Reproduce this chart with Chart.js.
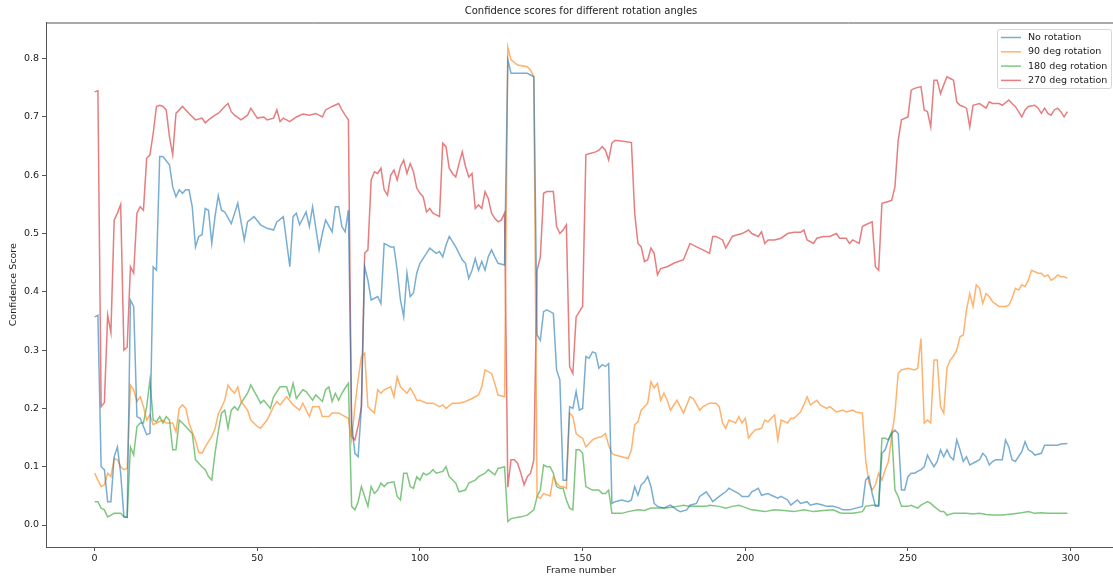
<!DOCTYPE html>
<html>
<head>
<meta charset="utf-8">
<script src="https://cdn.jsdelivr.net/npm/chart.js@4.4.1/dist/chart.umd.min.js"></script>
<style>
  html, body { margin: 0; padding: 0; background: #fff; overflow: hidden; }
  #wrap { position: absolute; left: 0; top: 0; width: 1130px; height: 577px; }
</style>
</head>
<body>
<div id="wrap"><canvas id="chart" width="1130" height="577"></canvas></div>
<script>
// [frame, score] pairs
var noRotation = [[0,.357],[1,.36],[2,.10],[3,.095],[4,.04],[5,.04],[6,.117],[7,.134],[8,.089],[9,.014],[10,.013],[11,.386],[12,.375],[13,.186],[14,.183],[15,.169],[16,.155],[17,.157],[18,.443],[19,.437],[20,.632],[21,.632],[22,.625],[23,.618],[24,.58],[25,.563],[26,.575],[27,.569],[28,.575],[29,.575],[30,.546],[31,.477],[32,.495],[33,.498],[34,.543],[35,.54],[36,.483],[37,.529],[38,.565],[39,.54],[40,.537],[42,.517],[44,.552],[45,.52],[46,.489],[47,.52],[49,.529],[51,.515],[53,.509],[55,.506],[56,.52],[58,.529],[60,.443],[61,.529],[62,.535],[63,.515],[65,.537],[66,.512],[67,.546],[69,.472],[70,.5],[71,.523],[73,.503],[74,.546],[75,.546],[76,.512],[77,.503],[78,.54],[79,.175],[80,.123],[81,.117],[82,.203],[83,.443],[84,.42],[85,.386],[87,.392],[88,.38],[89,.483],[90,.48],[91,.477],[92,.477],[93,.437],[94,.386],[95,.357],[96,.432],[97,.392],[98,.398],[99,.432],[100,.449],[102,.466],[103,.475],[105,.466],[106,.469],[107,.46],[108,.48],[109,.495],[110,.486],[111,.477],[113,.455],[114,.449],[115,.423],[116,.437],[117,.457],[118,.437],[119,.452],[120,.437],[121,.46],[122,.472],[123,.46],[124,.449],[126,.446],[127,.798],[128,.775],[130,.775],[133,.775],[134,.772],[135,.769],[136,.326],[137,.317],[138,.366],[139,.369],[140,.366],[141,.363],[142,.266],[143,.249],[144,.077],[145,.077],[146,.203],[147,.2],[148,.229],[149,.197],[150,.2],[151,.289],[152,.286],[153,.297],[154,.295],[155,.269],[156,.275],[157,.272],[158,.277],[159,.037],[160,.04],[162,.043],[164,.04],[165,.043],[166,.066],[167,.051],[168,.069],[169,.074],[170,.083],[171,.066],[172,.037],[173,.032],[175,.029],[176,.032],[177,.034],[179,.026],[180,.023],[182,.026],[183,.034],[185,.037],[186,.049],[188,.057],[189,.049],[190,.04],[192,.049],[194,.057],[195,.063],[196,.06],[198,.054],[199,.049],[201,.049],[202,.057],[204,.063],[205,.051],[207,.054],[208,.051],[210,.046],[211,.049],[213,.043],[214,.034],[216,.043],[217,.037],[219,.04],[220,.034],[222,.037],[224,.034],[225,.032],[227,.032],[229,.029],[230,.026],[232,.026],[234,.029],[236,.032],[237,.077],[238,.083],[239,.054],[240,.032],[241,.032],[242,.123],[243,.129],[244,.146],[245,.157],[246,.163],[247,.157],[248,.06],[249,.06],[250,.083],[251,.089],[252,.089],[253,.092],[254,.095],[255,.1],[256,.12],[257,.109],[258,.1],[259,.109],[260,.129],[261,.117],[262,.129],[263,.117],[264,.112],[265,.146],[266,.129],[267,.109],[268,.117],[269,.103],[271,.109],[272,.112],[273,.123],[274,.117],[275,.103],[276,.109],[277,.112],[279,.112],[280,.146],[281,.134],[282,.112],[283,.109],[285,.126],[286,.143],[287,.129],[288,.126],[289,.12],[291,.123],[292,.137],[294,.137],[296,.137],[297,.139],[299,.14]];

var rot90 = [[0,.089],[1,.077],[2,.066],[3,.069],[4,.089],[5,.083],[6,.114],[7,.112],[8,.1],[9,.095],[10,.097],[11,.24],[12,.232],[13,.212],[14,.22],[15,.203],[16,.18],[17,.189],[18,.172],[19,.175],[21,.18],[22,.175],[24,.175],[25,.16],[26,.2],[27,.206],[28,.2],[29,.175],[30,.16],[31,.145],[32,.125],[33,.123],[34,.134],[35,.143],[36,.152],[37,.165],[38,.19],[40,.214],[41,.24],[42,.232],[43,.226],[44,.237],[45,.212],[47,.197],[48,.18],[50,.169],[51,.166],[53,.18],[55,.203],[56,.212],[57,.206],[59,.22],[61,.206],[63,.197],[64,.209],[66,.186],[67,.203],[69,.203],[70,.186],[72,.186],[73,.192],[75,.192],[76,.189],[78,.183],[79,.146],[80,.203],[81,.25],[82,.289],[83,.295],[84,.203],[85,.197],[86,.192],[87,.232],[88,.226],[89,.232],[91,.237],[92,.22],[93,.254],[94,.237],[96,.226],[97,.235],[98,.226],[99,.214],[100,.214],[102,.209],[104,.209],[106,.203],[107,.206],[108,.2],[110,.209],[112,.209],[114,.212],[116,.217],[118,.223],[119,.237],[120,.266],[122,.26],[123,.243],[124,.223],[126,.22],[127,.82],[128,.798],[130,.789],[133,.786],[134,.78],[135,.769],[136,.049],[137,.046],[138,.054],[140,.05],[141,.083],[142,.072],[143,.066],[144,.066],[145,.063],[146,.192],[147,.186],[148,.157],[149,.152],[150,.149],[151,.134],[153,.146],[154,.149],[156,.152],[157,.157],[158,.137],[159,.123],[160,.12],[162,.117],[164,.114],[165,.129],[166,.172],[167,.177],[168,.197],[170,.209],[171,.246],[172,.235],[173,.243],[174,.214],[175,.226],[176,.214],[177,.197],[179,.214],[180,.203],[181,.192],[183,.22],[184,.217],[186,.197],[187,.203],[189,.209],[191,.209],[192,.203],[193,.175],[194,.166],[195,.18],[197,.175],[198,.186],[199,.175],[200,.183],[201,.149],[202,.157],[203,.163],[205,.166],[206,.18],[207,.177],[208,.183],[209,.189],[210,.146],[211,.18],[213,.175],[214,.183],[215,.183],[217,.194],[218,.206],[219,.22],[220,.206],[222,.214],[223,.206],[225,.2],[226,.203],[228,.194],[230,.197],[231,.194],[233,.197],[234,.194],[236,.192],[237,.112],[238,.072],[239,.06],[240,.069],[241,.089],[242,.077],[243,.095],[244,.109],[245,.152],[246,.192],[247,.26],[248,.266],[250,.269],[252,.266],[253,.269],[254,.32],[255,.175],[256,.18],[257,.175],[258,.283],[259,.283],[260,.203],[261,.192],[262,.27],[263,.283],[264,.29],[265,.3],[266,.323],[267,.326],[268,.369],[269,.397],[270,.375],[271,.412],[272,.406],[273,.38],[274,.397],[275,.392],[276,.383],[278,.375],[280,.375],[281,.377],[282,.389],[283,.406],[284,.403],[285,.412],[286,.409],[287,.42],[288,.437],[290,.432],[291,.432],[292,.426],[293,.429],[294,.42],[295,.423],[296,.429],[297,.426],[298,.426],[299,.423]];

var rot180 = [[0,.04],[1,.04],[2,.029],[3,.026],[4,.014],[5,.017],[6,.02],[7,.02],[8,.02],[9,.014],[10,.013],[11,.134],[12,.12],[13,.169],[14,.175],[15,.175],[16,.203],[17,.249],[18,.18],[19,.177],[20,.186],[21,.175],[22,.186],[23,.18],[24,.129],[25,.129],[26,.18],[27,.175],[29,.163],[30,.157],[31,.112],[32,.106],[33,.1],[34,.095],[35,.083],[36,.077],[37,.123],[38,.16],[39,.192],[40,.197],[41,.166],[42,.197],[43,.203],[44,.197],[45,.209],[47,.226],[48,.24],[50,.22],[51,.209],[52,.214],[54,.2],[55,.22],[57,.237],[59,.237],[60,.22],[61,.243],[62,.217],[64,.232],[65,.229],[67,.214],[68,.223],[70,.212],[71,.232],[72,.237],[73,.212],[74,.226],[75,.214],[76,.226],[77,.235],[78,.243],[79,.032],[80,.026],[81,.04],[82,.066],[83,.049],[84,.032],[85,.066],[86,.054],[87,.06],[88,.072],[89,.066],[90,.072],[92,.074],[93,.049],[94,.043],[95,.089],[96,.089],[97,.066],[98,.063],[99,.083],[100,.077],[101,.089],[102,.086],[103,.089],[104,.095],[105,.089],[107,.092],[108,.1],[109,.083],[111,.072],[112,.057],[114,.06],[115,.072],[117,.077],[118,.083],[120,.089],[121,.095],[123,.086],[124,.097],[126,.1],[127,.006],[128,.011],[131,.014],[133,.017],[135,.026],[136,.049],[137,.06],[138,.103],[139,.1],[140,.1],[141,.089],[142,.066],[143,.063],[144,.063],[145,.043],[146,.029],[147,.026],[148,.129],[149,.129],[150,.123],[151,.066],[153,.06],[155,.06],[156,.054],[157,.054],[158,.06],[159,.02],[162,.02],[164,.023],[167,.026],[169,.025],[171,.029],[175,.029],[177,.03],[179,.032],[181,.034],[183,.032],[188,.032],[189,.034],[192,.032],[194,.029],[196,.032],[198,.034],[199,.032],[202,.026],[206,.023],[209,.026],[212,.025],[215,.023],[218,.026],[221,.023],[224,.025],[227,.026],[229,.021],[230,.02],[233,.02],[236,.023],[237,.032],[239,.034],[241,.034],[242,.149],[243,.149],[244,.146],[245,.16],[246,.06],[247,.049],[248,.032],[250,.032],[251,.034],[253,.029],[254,.034],[256,.04],[257,.037],[258,.032],[260,.023],[261,.023],[262,.017],[264,.02],[266,.02],[268,.02],[270,.019],[272,.02],[274,.018],[276,.017],[279,.017],[282,.019],[285,.021],[287,.023],[289,.02],[291,.021],[293,.02],[295,.02],[299,.02]];

var rot270 = [[0,.743],[1,.745],[2,.203],[3,.21],[4,.36],[5,.33],[6,.523],[7,.535],[8,.55],[9,.30],[10,.305],[11,.443],[12,.432],[13,.535],[14,.546],[15,.54],[16,.629],[17,.635],[18,.672],[19,.718],[20,.72],[21,.718],[22,.712],[23,.666],[24,.635],[25,.706],[27,.718],[29,.706],[31,.695],[33,.698],[34,.69],[35,.695],[37,.703],[38,.706],[40,.718],[41,.723],[42,.709],[43,.703],[45,.695],[47,.703],[48,.715],[50,.698],[52,.7],[53,.695],[55,.698],[56,.712],[57,.692],[58,.698],[60,.692],[62,.7],[64,.705],[66,.703],[68,.706],[70,.7],[71,.712],[73,.718],[75,.723],[76,.712],[77,.703],[78,.695],[79,.152],[80,.146],[81,.17],[82,.203],[83,.466],[84,.472],[85,.592],[86,.606],[87,.603],[88,.612],[89,.575],[90,.566],[91,.6],[92,.609],[93,.592],[94,.615],[95,.626],[96,.603],[97,.62],[98,.606],[99,.578],[100,.569],[101,.563],[102,.537],[103,.543],[104,.535],[106,.529],[107,.655],[108,.649],[109,.612],[110,.603],[111,.597],[112,.62],[113,.64],[114,.615],[115,.597],[116,.603],[117,.543],[118,.549],[119,.543],[120,.572],[121,.56],[122,.535],[123,.526],[124,.52],[125,.523],[126,.535],[127,.065],[128,.112],[129,.112],[130,.106],[131,.089],[132,.069],[133,.083],[134,.089],[135,.112],[136,.437],[137,.46],[138,.569],[139,.572],[141,.572],[142,.512],[143,.5],[144,.506],[145,.515],[146,.272],[147,.26],[148,.357],[149,.366],[150,.375],[151,.635],[152,.637],[154,.64],[155,.643],[156,.649],[157,.643],[158,.626],[159,.655],[160,.66],[163,.658],[165,.656],[166,.535],[167,.483],[168,.477],[169,.452],[170,.455],[171,.475],[172,.466],[173,.429],[174,.44],[176,.443],[178,.449],[181,.455],[183,.483],[185,.477],[187,.472],[189,.466],[190,.495],[191,.495],[193,.489],[194,.475],[196,.495],[197,.497],[199,.5],[201,.506],[202,.5],[204,.495],[205,.503],[206,.483],[207,.489],[209,.489],[211,.492],[213,.5],[215,.502],[217,.502],[218,.506],[219,.489],[221,.483],[222,.492],[224,.495],[226,.495],[228,.5],[229,.492],[231,.492],[232,.483],[233,.489],[235,.483],[236,.512],[237,.515],[239,.52],[240,.443],[241,.437],[242,.552],[244,.555],[245,.557],[246,.58],[247,.66],[248,.695],[250,.7],[251,.746],[252,.749],[254,.752],[255,.712],[256,.709],[257,.683],[258,.763],[259,.763],[260,.74],[261,.755],[262,.769],[263,.766],[264,.763],[265,.726],[266,.72],[267,.718],[268,.715],[269,.683],[270,.72],[272,.723],[274,.715],[275,.726],[276,.723],[278,.723],[279,.72],[281,.729],[282,.723],[283,.718],[285,.7],[286,.712],[287,.718],[289,.72],[290,.715],[291,.706],[292,.715],[293,.706],[294,.703],[295,.712],[296,.715],[297,.709],[298,.7],[299,.709]];

var seriesNames = ["No rotation", "90 deg rotation", "180 deg rotation", "270 deg rotation"];
var seriesColors = ["rgba(31,119,180,0.6)", "rgba(255,127,14,0.6)", "rgba(44,160,44,0.6)", "rgba(214,39,40,0.6)"];
var xTicks = [0, 50, 100, 150, 200, 250, 300];
var yTicks = [0, 0.1, 0.2, 0.3, 0.4, 0.5, 0.6, 0.7, 0.8];

var allSeries = [noRotation, rot90, rot180, rot270];
var axisColor = "#555";

function toPoints(pairs) {
    return pairs.map(function (p) { return { x: p[0], y: p[1] }; });
}

// top spine (the right one falls outside the picture) and the boxed legend
var framePlugin = {
    id: "frame",
    afterDraw: function (chart) {
        var ctx = chart.ctx;
        var a = chart.chartArea;
        ctx.save();
        ctx.strokeStyle = axisColor;
        ctx.lineWidth = 1;
        ctx.beginPath();
        ctx.moveTo(a.left, a.top + 0.5);
        ctx.lineTo(a.right, a.top + 0.5);
        ctx.stroke();

        var boxW = 114, boxH = 59;
        var bx = a.right - 5 - boxW, by = a.top + 6.5;
        ctx.fillStyle = "rgba(255,255,255,0.85)";
        ctx.strokeStyle = "#d6d6d6";
        ctx.beginPath();
        ctx.roundRect(bx + 0.5, by + 0.5, boxW, boxH, 2);
        ctx.fill();
        ctx.stroke();

        ctx.font = "9.5px 'DejaVu Sans'";
        ctx.textBaseline = "middle";
        ctx.textAlign = "left";
        for (var i = 0; i < seriesNames.length; i++) {
            var ly = by + 8.5 + i * 14.3;
            ctx.strokeStyle = seriesColors[i];
            ctx.lineWidth = 1.5;
            ctx.beginPath();
            ctx.moveTo(bx + 4, ly);
            ctx.lineTo(bx + 24, ly);
            ctx.stroke();
            ctx.fillStyle = "#222";
            ctx.fillText(seriesNames[i], bx + 31, ly);
        }
        ctx.restore();
    }
};

Chart.defaults.font.family = "'DejaVu Sans', sans-serif";
Chart.defaults.font.size = 10;
Chart.defaults.color = "#222";

var datasets = [];
for (var i = 0; i < allSeries.length; i++) {
    datasets.push({
        label: seriesNames[i],
        data: toPoints(allSeries[i]),
        borderColor: seriesColors[i],
        backgroundColor: seriesColors[i],
        borderWidth: 1.5,
        pointRadius: 0,
        tension: 0,
        fill: false
    });
}

new Chart(document.getElementById("chart"), {
    type: "line",
    data: { datasets: datasets },
    plugins: [framePlugin],
    options: {
        responsive: false,
        animation: false,
        events: [],
        layout: { padding: { left: 0, right: 14, top: 0, bottom: 0 } },
        plugins: {
            legend: { display: false },
            tooltip: { enabled: false },
            title: {
                display: true,
                fullSize: false,
                text: "Confidence scores for different rotation angles",
                font: { size: 10, weight: "normal" },
                color: "#222",
                padding: { top: 5, bottom: 5.5 }
            }
        },
        scales: {
            x: {
                type: "linear",
                min: -14.95,
                max: 313.95,
                afterBuildTicks: function (axis) {
                    axis.ticks = xTicks.map(function (v) { return { value: v }; });
                },
                afterFit: function (scale) { scale.height = 30; },
                ticks: { padding: 2, maxRotation: 0, color: "#222", font: { size: 9.5 } },
                grid: { display: true, drawOnChartArea: false, drawTicks: true, tickLength: 4, tickColor: axisColor },
                border: { display: true, color: axisColor },
                title: { display: true, text: "Frame number", font: { size: 9.5 }, color: "#222", padding: { top: 0, bottom: 1 } }
            },
            y: {
                type: "linear",
                min: -0.0377,
                max: 0.862,
                afterBuildTicks: function (axis) {
                    axis.ticks = yTicks.map(function (v) { return { value: v }; });
                },
                afterFit: function (scale) { scale.width = 46; },
                ticks: {
                    padding: 3,
                    color: "#222",
                    font: { size: 9.5 },
                    callback: function (v) { return v.toFixed(1); }
                },
                grid: { display: true, drawOnChartArea: false, drawTicks: true, tickLength: 4, tickColor: axisColor },
                border: { display: true, color: axisColor },
                title: { display: true, text: "Confidence Score", font: { size: 9.5 }, color: "#222", padding: { top: 8, bottom: 0 } }
            }
        }
    }
});
</script>
</body>
</html>
